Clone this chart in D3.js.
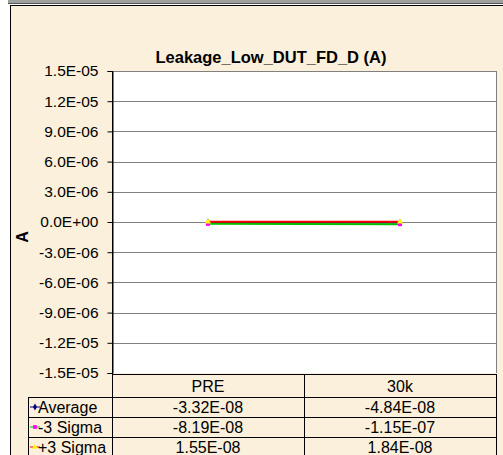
<!DOCTYPE html>
<html><head><meta charset="utf-8">
<script src="https://cdn.jsdelivr.net/npm/d3@7"></script>
<style>body{margin:0;background:#fff}svg{display:block}text{font-family:"Liberation Sans",Arial,sans-serif}</style>
</head><body><svg id="c" width="503" height="455"></svg>
<script>
const title = "Leakage_Low_DUT_FD_D (A)";
const yLabel = "A";
const categories = ["PRE", "30k"];
const seriesNames = ["Average", "-3 Sigma", "+3 Sigma"];
const average = [-3.32e-8, -4.84e-8];
const minus3Sigma = [-8.19e-8, -1.15e-7];
const plus3Sigma = [1.55e-8, 1.84e-8];
const tableText = [["-3.32E-08", "-4.84E-08"], ["-8.19E-08", "-1.15E-07"], ["1.55E-08", "1.84E-08"]];
const yTicks = [1.5e-5, 1.2e-5, 9e-6, 6e-6, 3e-6, 0, -3e-6, -6e-6, -9e-6, -1.2e-5, -1.5e-5];
const yTickLabels = ["1.5E-05","1.2E-05","9.0E-06","6.0E-06","3.0E-06","0.0E+00","-3.0E-06","-6.0E-06","-9.0E-06","-1.2E-05","-1.5E-05"];

const svg = d3.select("#c");
const L = 112, R = 496, T = 71, B = 373;
const legL = 28;
const rowH = [374, 397, 417, 437, 457];
const fs = 15.5;

// frame
svg.append("rect").attr("x", 8).attr("y", 0).attr("width", 495).attr("height", 4).attr("fill", "#a0a0a0");
svg.append("line").attr("x1", 8).attr("x2", 503).attr("y1", 3.5).attr("y2", 3.5).attr("stroke", "#555");
svg.append("rect").attr("x", 10.5).attr("y", 5.5).attr("width", 500).attr("height", 460)
  .attr("fill", "#fbf0dc").attr("stroke", "#000");

const x = d3.scaleBand().domain(categories).range([L, R]);
const y = d3.scaleLinear().domain([-1.5e-5, 1.5e-5]).range([B, T]);

svg.append("rect").attr("x", L).attr("y", T).attr("width", R - L).attr("height", B - T).attr("fill", "#fff");

// gridlines
svg.append("g").selectAll("line").data(yTicks.slice(0, -1)).join("line")
  .attr("x1", L).attr("x2", R).attr("y1", d => Math.round(y(d)) + 0.5).attr("y2", d => Math.round(y(d)) + 0.5)
  .attr("stroke", "#808080");
svg.append("line").attr("x1", R + 0.5).attr("x2", R + 0.5).attr("y1", T).attr("y2", B).attr("stroke", "#808080");

// y axis
const yAxis = d3.axisLeft(y).tickValues(yTicks).tickFormat((d, i) => yTickLabels[i]).tickSize(5).tickPadding(9);
const ga = svg.append("g").attr("transform", `translate(${L + 0.5},0)`).call(yAxis);
ga.select(".domain").attr("stroke", "#000");
ga.selectAll(".tick line").attr("stroke", "#000");
ga.selectAll(".tick text").attr("font-size", fs).attr("fill", "#000").style("font-family", "'Liberation Sans',Arial");

svg.append("text").attr("x", 271).attr("y", 63).attr("text-anchor", "middle")
  .attr("font-size", 16.5).attr("font-weight", "bold").text(title);
svg.append("text").attr("transform", "translate(28,237) rotate(-90)").attr("text-anchor", "middle")
  .attr("font-size", 16).attr("font-weight", "bold").text(yLabel);

// series
const series = [
  {name: seriesNames[0], vals: average, line: "#000080", marker: "#000080", shape: d3.symbolDiamond, off: 0, w: 2},
  {name: seriesNames[1], vals: minus3Sigma, line: "#00c000", marker: "#ff00ff", shape: d3.symbolSquare, off: 1, w: 2},
  {name: seriesNames[2], vals: plus3Sigma, line: "#ff0000", marker: "#ffff00", shape: d3.symbolTriangle, off: 0, w: 2}
];
const cx = c => x(c) + x.bandwidth() / 2;
const lineGen = d3.line().x((d, i) => cx(categories[i])).y(d => y(d));
series.forEach(s => {
  svg.append("path").datum(s.vals).attr("d", lineGen).attr("fill", "none")
    .attr("stroke", s.line).attr("stroke-width", s.w).attr("transform", `translate(0,${s.off})`);
});
series.forEach(s => {
  svg.append("g").selectAll("path").data(s.vals).join("path")
    .attr("d", d3.symbol().type(s.shape).size(16))
    .attr("transform", (d, i) => `translate(${cx(categories[i])},${y(d) + s.off})`)
    .attr("fill", s.marker);
});

// table
const tg = svg.append("g");
const hl = (x1, x2, yy) => tg.append("line").attr("x1", x1).attr("x2", x2).attr("y1", yy + 0.5).attr("y2", yy + 0.5).attr("stroke", "#000");
const vl = (xx, y1, y2) => tg.append("line").attr("x1", xx + 0.5).attr("x2", xx + 0.5).attr("y1", y1).attr("y2", y2).attr("stroke", "#000");
hl(L, R, rowH[0]);
hl(legL, R, rowH[1]);
hl(legL, R, rowH[2]);
hl(legL, R, rowH[3]);
vl(legL, rowH[1], 455);
vl(L, T, 455);
vl(x(categories[1]), rowH[0], 455);
vl(R, rowH[0], 455);
categories.forEach(c => {
  tg.append("text").attr("x", cx(c)).attr("y", (rowH[0] + rowH[1]) / 2 + 6).attr("text-anchor", "middle")
    .attr("font-size", 16).text(c);
});
series.forEach((s, r) => {
  const ym = (rowH[r + 1] + rowH[r + 2]) / 2;
  tg.append("line").attr("x1", legL + 2).attr("x2", legL + 12).attr("y1", ym).attr("y2", ym).attr("stroke", s.line).attr("stroke-width", 1);
  tg.append("path").attr("d", d3.symbol().type(s.shape).size(14)).attr("transform", `translate(${legL + 7},${ym})`).attr("fill", s.marker);
  tg.append("text").attr("x", legL + 10).attr("y", ym + 6).attr("font-size", 16).text(s.name);
  categories.forEach((c, i) => {
    tg.append("text").attr("x", cx(c)).attr("y", ym + 6).attr("text-anchor", "middle").attr("font-size", 16).text(tableText[r][i]);
  });
});
</script></body></html>
